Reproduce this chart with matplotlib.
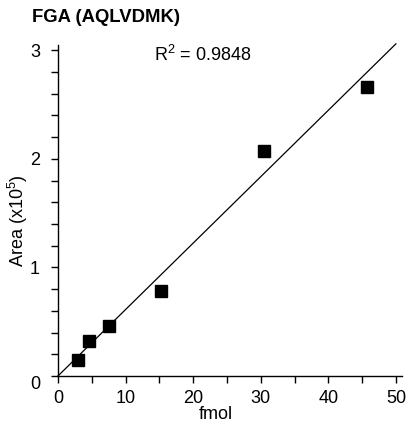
import matplotlib
matplotlib.use('Agg')
import matplotlib.pyplot as plt
import matplotlib.transforms as mtransforms
import numpy as np

# data
fmol = [3.0, 4.6, 7.5, 15.2, 30.5, 45.7]
area = [0.15, 0.32, 0.46, 0.78, 2.07, 2.66]
fit_x = [0, 50]
fit_slope = 0.0612
fit_intercept = 0.0
r2_text = 'R$^2$ = 0.9848'
title = 'FGA (AQLVDMK)'

plt.rcParams['font.family'] = ['Liberation Sans', 'DejaVu Sans']
plt.rcParams['mathtext.fontset'] = 'custom'
plt.rcParams['mathtext.rm'] = 'Liberation Sans'

fig = plt.figure(figsize=(4.14, 4.25), dpi=100)
ax = fig.add_axes([0.140, 0.1153, 0.831, 0.779])

fx = np.array(fit_x)
ax.plot(fx, fit_slope * fx + fit_intercept, color='black', lw=0.9, clip_on=False)
ax.plot(fmol, area, 's', color='black', markersize=8.5, clip_on=False)

ax.set_xlim(0, 50.9)
ax.set_ylim(0, 3.05)
ax.set_xticks(np.arange(0, 51, 10))
ax.set_xticks(np.arange(0, 51, 5), minor=True)
ax.set_yticks([0, 1, 2, 3])
ax.set_yticks(np.arange(0, 3.01, 0.2), minor=True)

for s in ['top', 'right']:
    ax.spines[s].set_visible(False)
for s in ['left', 'bottom']:
    ax.spines[s].set_linewidth(1.0)

ax.tick_params(which='both', direction='out', length=5, width=1, labelsize=13)
ax.tick_params(axis='x', pad=5)
ax.tick_params(axis='y', pad=8)

# the y "0" label sits a little lower than the others
fig.canvas.draw()
lbl0 = ax.get_yticklabels()[0]
lbl0.set_transform(lbl0.get_transform() + mtransforms.ScaledTranslation(0, -7 / 100, fig.dpi_scale_trans))

ax.set_xlabel('fmol', fontsize=13, va='top')
ax.xaxis.set_label_coords(0.458, -0.092)
ax.set_ylabel('Area (x10$^5$)', fontsize=13)
ax.yaxis.set_label_coords(-0.082, 0.47)

ax.text(0.28, 0.97, r2_text, transform=ax.transAxes, fontsize=13, ha='left', va='center')
fig.text(32 / 414, 1 - 18 / 425, title, fontsize=13.3, fontweight='bold', ha='left', va='center')

fig.savefig('out.png', dpi=100)
